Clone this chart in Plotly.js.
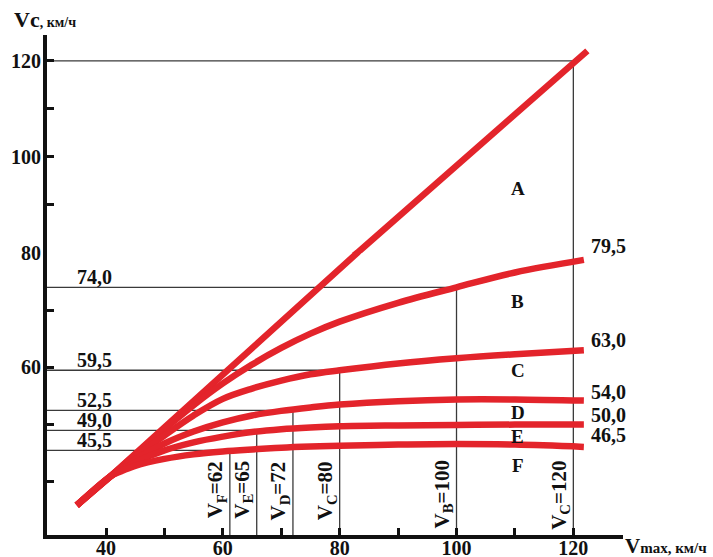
<!DOCTYPE html>
<html><head><meta charset="utf-8">
<script src="https://cdn.plot.ly/plotly-3.0.1.min.js"></script>
<style>html,body{margin:0;padding:0;background:#fff}</style>
</head><body><div id="chart" style="width:713px;height:557px"></div>
<script>
// ---- data ----
const xA = [35, 40.7, 50, 60, 70, 83, 90, 100, 110, 122.4];
const yA = [35.9, 40.9, 49.5, 58.7, 67.9, 80, 87.5, 98.2, 108.9, 122.1];
const xCurve = [35, 40.7, 42.5, 45, 50, 55, 60, 65, 70, 75, 80, 90, 100, 110, 121.8];
const yB = [35.9, 40.9, 42.5, 44.8, 49.2, 53.4, 57.2, 60.5, 63.4, 65.9, 68.0, 71.3, 74.0, 76.6, 78.8];
const yC = [35.9, 40.9, 42.4, 44.4, 48.1, 51.6, 54.5, 56.3, 57.7, 58.8, 59.5, 60.7, 61.6, 62.3, 63.0];
const yD = [35.9, 40.9, 42.2, 43.9, 46.7, 48.8, 50.4, 51.6, 52.4, 53.0, 53.5, 54.1, 54.4, 54.4, 54.2];
const yE = [35.9, 40.9, 42.0, 43.4, 45.5, 46.9, 47.9, 48.7, 49.2, 49.5, 49.7, 49.85, 49.95, 50.0, 50.0];
const yF = [35.9, 40.9, 41.8, 42.8, 44.0, 44.8, 45.3, 45.65, 45.95, 46.15, 46.3, 46.5, 46.6, 46.5, 46.1];

const vLimitNames = ['F', 'E', 'D', 'C', 'B', 'C'];
const vLimitLabels = [62, 65, 72, 80, 100, 120];
const vLimitDrawn = [61.2, 65.8, 72, 80, 100, 120];
const vcLevels = [45.5, 49.0, 52.5, 59.5, 74.0, 120];
const endLabels = [79.5, 63.0, 54.0, 50.0, 46.5];
const regionNames = ['A', 'B', 'C', 'D', 'E', 'F'];

const xTicks = [40, 50, 60, 70, 80, 90, 100, 110, 120];
const xTickText = ['40', '', '60', '', '80', '', '100', '', '120'];
const yLowTicks = [40, 50, 60, 70];
const yLowText = ['', '', '60', ''];
const yHighTicks = [80, 90, 100, 110, 120];
const yHighText = ['80', '', '100', '', '120'];

// ---- styling ----
const FONT = "'Liberation Serif', 'Times New Roman', serif";
const RED = '#e3242b';
const GREY = '#3a3a3a';
const XMIN = 29.9, XMAX = 128.5;
const YLOW = [30.7, 80], YHIGH = [79.99, 125.4];
const SPLIT = 0.564;

const traces = [];
// reference lines
vLimitDrawn.forEach((v, i) => {
  const lv = vcLevels[i];
  const ax = lv > 80 ? 'y2' : 'y';
  traces.push({x: [XMIN, v], y: [lv, lv], yaxis: ax, mode: 'lines',
    line: {color: GREY, width: 1.3}, hoverinfo: 'skip', showlegend: false});
  traces.push({x: [v, v], y: [YLOW[0], lv], yaxis: 'y', mode: 'lines',
    line: {color: GREY, width: 1.3}, hoverinfo: 'skip', showlegend: false});
  if (lv > 80) traces.push({x: [v, v], y: [YHIGH[0], lv], yaxis: 'y2', mode: 'lines',
    line: {color: GREY, width: 1.3}, hoverinfo: 'skip', showlegend: false});
});
// curves
['y', 'y2'].forEach(ax => traces.push({x: xA, y: yA, yaxis: ax, mode: 'lines',
  line: {color: RED, width: 6.5}, hoverinfo: 'skip', showlegend: false}));
[yB, yC, yD, yE, yF].forEach(ys => traces.push({x: xCurve, y: ys, yaxis: 'y', mode: 'lines',
  line: {color: RED, width: 6.5, shape: 'spline', smoothing: 1}, hoverinfo: 'skip', showlegend: false}));

const txt = (size) => ({family: FONT, size: size, color: '#111', weight: 'bold'});
const annotations = [];
const fmt = v => v.toFixed(1).replace('.', ',');
// level labels on the left
vcLevels.forEach(lv => {
  if (lv > 80) return;
  annotations.push({x: 38.0, y: lv, xref: 'x', yref: 'y', text: fmt(lv), showarrow: false,
    xanchor: 'center', yanchor: 'middle', yshift: 10, font: txt(20)});
});
// end labels
endLabels.forEach(lv => {
  annotations.push({x: 122.6, y: lv, xref: 'x', yref: 'y', text: fmt(lv), showarrow: false,
    xanchor: 'left', yanchor: 'middle', yshift: 10, font: txt(20)});
});
// vertical limit labels
vLimitDrawn.forEach((v, i) => {
  annotations.push({x: v, y: 0.152, xref: 'x', yref: 'paper',
    text: 'V<sub>' + vLimitNames[i] + '</sub>=' + vLimitLabels[i], textangle: -90, showarrow: false,
    xanchor: 'right', yanchor: 'top', xshift: 1, font: txt(21)});
});
// region letters
const regionPos = [[110.5, 93.5, 'y2'], [110.5, 71.6, 'y'], [110.5, 59.4, 'y'],
                   [110.5, 52.2, 'y'], [110.5, 48.0, 'y'], [110.5, 42.8, 'y']];
regionNames.forEach((n, i) => {
  annotations.push({x: regionPos[i][0], y: regionPos[i][1], xref: 'x', yref: regionPos[i][2],
    text: n, showarrow: false, xanchor: 'center', yanchor: 'middle', font: txt(19)});
});
// axis titles
annotations.push({x: -0.061, y: 1.03, xref: 'paper', yref: 'paper', xanchor: 'left', yanchor: 'middle',
  text: "Vc<span style='font-size:14px'>, км/ч</span>", showarrow: false, font: txt(22)});
annotations.push({x: 1.0, y: -0.022, xref: 'paper', yref: 'paper', xanchor: 'left', yanchor: 'middle',
  text: "V<span style='font-size:15px'>max, км/ч</span>", showarrow: false, font: txt(21)});

const axisCommon = {showgrid: false, zeroline: false, showline: true, linecolor: '#111',
  ticks: 'inside', tickcolor: '#111', tickfont: txt(20), fixedrange: true};

const layout = {
  width: 713, height: 557,
  margin: {l: 47, r: 90, t: 35, b: 22},
  paper_bgcolor: '#fff', plot_bgcolor: '#fff',
  showlegend: false,
  xaxis: Object.assign({}, axisCommon, {range: [XMIN, XMAX], anchor: 'y', linewidth: 3.5,
    tickvals: xTicks, ticktext: xTickText, ticklen: 7, tickwidth: 3, ticklabelstandoff: -8}),
  yaxis: Object.assign({}, axisCommon, {range: YLOW, domain: [0, SPLIT], anchor: 'x', linewidth: 4,
    tickvals: yLowTicks, ticktext: yLowText, ticklen: 7, tickwidth: 3, ticklabelstandoff: -2}),
  yaxis2: Object.assign({}, axisCommon, {range: YHIGH, domain: [SPLIT, 1], anchor: 'x', linewidth: 4,
    tickvals: yHighTicks, ticktext: yHighText, ticklen: 7, tickwidth: 3, ticklabelstandoff: -2}),
  annotations: annotations
};

Plotly.newPlot('chart', traces, layout, {displayModeBar: false, staticPlot: true});
</script>
</body></html>
